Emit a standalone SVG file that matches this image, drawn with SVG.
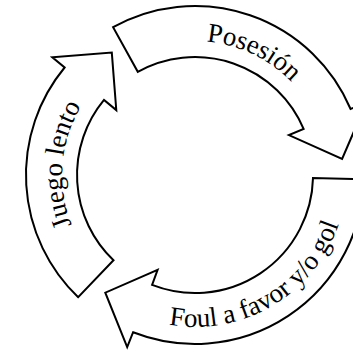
<svg xmlns="http://www.w3.org/2000/svg" xmlns:xlink="http://www.w3.org/1999/xlink" width="353" height="352" viewBox="0 0 353 352">
  <style>
    .arrow { fill: #ffffff; stroke: #000000; stroke-width: 2; stroke-linejoin: miter; }
    .lbl { font-family: "Liberation Serif", "Times New Roman", serif; font-size: 27px; fill: #000000; }
  </style>
  <defs>
    <path id="tp-posesion" d="M119.1,64.6 A134,134 0 0 1 328.6,164.5"/>
    <path id="tp-foul" d="M119,306.6 A152,152 0 0 0 347,175"/>
    <path id="tp-juego" d="M119.5,284.5 A133,133 0 0 1 138,54.9"/>
  </defs>
  <rect width="353" height="352" fill="#ffffff"/>
  <g id="posesion">
    <path class="arrow" d="M113.1,27.2 A169,169 0 0 1 350.6,109 L366.3,102.7 L342.1,159 L288.9,135.1 L303.6,128.9 A118,118 0 0 0 137.8,71.8 Z"/>
    <text class="lbl"><textPath xlink:href="#tp-posesion" href="#tp-posesion" startOffset="50%" text-anchor="middle">Posesión</textPath></text>
  </g>
  <g id="foul">
    <path class="arrow" d="M363.9,179.4 A169,169 0 0 1 133.1,332.2 L127.2,347.1 L105.3,292.7 L157.6,269.9 L152.1,284.9 A118,118 0 0 0 313,178.1 Z"/>
    <text class="lbl"><textPath xlink:href="#tp-foul" href="#tp-foul" startOffset="50.5%" text-anchor="middle">Foul a favor y/o gol</textPath></text>
  </g>
  <g id="juego-lento">
    <path class="arrow" d="M78.2,297.2 A169,169 0 0 1 64.6,67.5 L52.3,57.3 L111.8,52.6 L116.3,110.1 L104,99.9 A118,118 0 0 0 113.5,260.3 Z"/>
    <text class="lbl"><textPath xlink:href="#tp-juego" href="#tp-juego" startOffset="50%" text-anchor="middle">Juego lento</textPath></text>
  </g>
  <g id="connectors"/>
</svg>
